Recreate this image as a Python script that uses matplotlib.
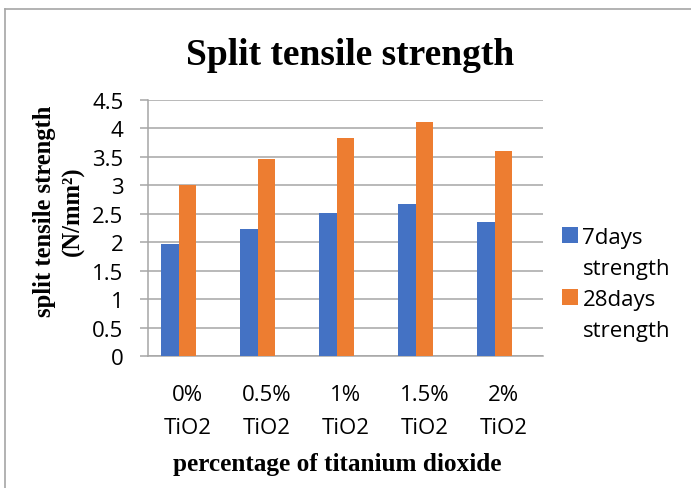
import matplotlib
matplotlib.use("Agg")
import matplotlib.pyplot as plt
import numpy as np
from matplotlib.lines import Line2D
from matplotlib.patches import Patch

categories = ["0%\nTiO2", "0.5%\nTiO2", "1%\nTiO2", "1.5%\nTiO2", "2%\nTiO2"]
series_names = ["7days strength", "28days strength"]
days7 = [1.96, 2.23, 2.51, 2.67, 2.35]
days28 = [3.01, 3.46, 3.84, 4.11, 3.61]
yticks = [0, 0.5, 1, 1.5, 2, 2.5, 3, 3.5, 4, 4.5]
ytick_labels = ["0", "0.5", "1", "1.5", "2", "2.5", "3", "3.5", "4", "4.5"]

W, H = 691, 489
fig = plt.figure(figsize=(W / 100, H / 100), dpi=100)
ax = fig.add_axes([148 / W, (H - 357) / H, (543 - 148) / W, (357 - 101) / H])

sans = "Open Sans"
serif = "Liberation Serif"
grid_c = "#a6a6a6"
c7, c28 = "#4472C4", "#ED7D31"

x = np.arange(len(categories))
bw = 0.222
ax.bar(x - bw, days7, width=bw, color=c7, label=series_names[0], zorder=3)
ax.bar(x, days28, width=bw, color=c28, label=series_names[1], zorder=3)

ax.set_xlim(-0.5, len(categories) - 0.5)
ax.set_ylim(0, 4.5)
ax.set_yticks(yticks)
ax.set_yticklabels(ytick_labels, fontfamily=sans, fontsize=16)
ax.set_xticks(x)
ax.set_xticklabels(categories, fontfamily=sans, fontsize=16, linespacing=1.75)
ax.yaxis.grid(True, color=grid_c, linewidth=1.1, zorder=0)
ax.set_axisbelow(True)
ax.tick_params(axis="y", length=5.8, width=1.1, color=grid_c, pad=12)
ax.tick_params(axis="x", length=0, pad=20)
for s in ["top", "right"]:
    ax.spines[s].set_visible(False)
ax.spines["left"].set_color(grid_c)
ax.spines["left"].set_linewidth(1.1)
ax.spines["bottom"].set_color(grid_c)
ax.spines["bottom"].set_linewidth(1.1)

# legend: label wrapped over two rows, swatch beside first row (as in Excel)
handles, labels = [], []
for name, col in zip(series_names, [c7, c28]):
    first, second = name.split(" ")
    handles += [Patch(facecolor=col, edgecolor="none"),
                Patch(facecolor="none", edgecolor="none")]
    labels += [first, second]
leg = ax.legend(handles, labels, loc="upper left",
                bbox_to_anchor=(562 / W, (H - 228) / H),
                bbox_transform=fig.transFigure, frameon=False,
                prop={"family": sans, "size": 16}, handlelength=0.72,
                handleheight=0.72, handletextpad=0.2, labelspacing=0.45,
                borderaxespad=0, borderpad=0)

fig.text(350 / W, (H - 65) / H, "Split tensile strength", ha="center",
         va="baseline", fontfamily=serif, fontweight="bold", fontsize=27)
fig.text(59 / W, (H - 211) / H, "split tensile strength\n(N/mm²)", ha="center",
         va="center", rotation=90, multialignment="center",
         fontfamily=serif, fontweight="bold", fontsize=17.7, linespacing=1.3)
fig.text(337 / W, (H - 465) / H, "percentage of titanium dioxide", ha="center",
         va="center", fontfamily=serif, fontweight="bold", fontsize=18.2)

# chart frame (partially visible in the reference)
fig.add_artist(Line2D([5.5 / W, 5.5 / W], [0, (H - 9.5) / H], color=grid_c,
                      linewidth=1.2, transform=fig.transFigure))
fig.add_artist(Line2D([5.5 / W, 1], [(H - 9.5) / H, (H - 9.5) / H], color=grid_c,
                      linewidth=1.2, transform=fig.transFigure))

fig.savefig("out.png", dpi=100, facecolor="white")
